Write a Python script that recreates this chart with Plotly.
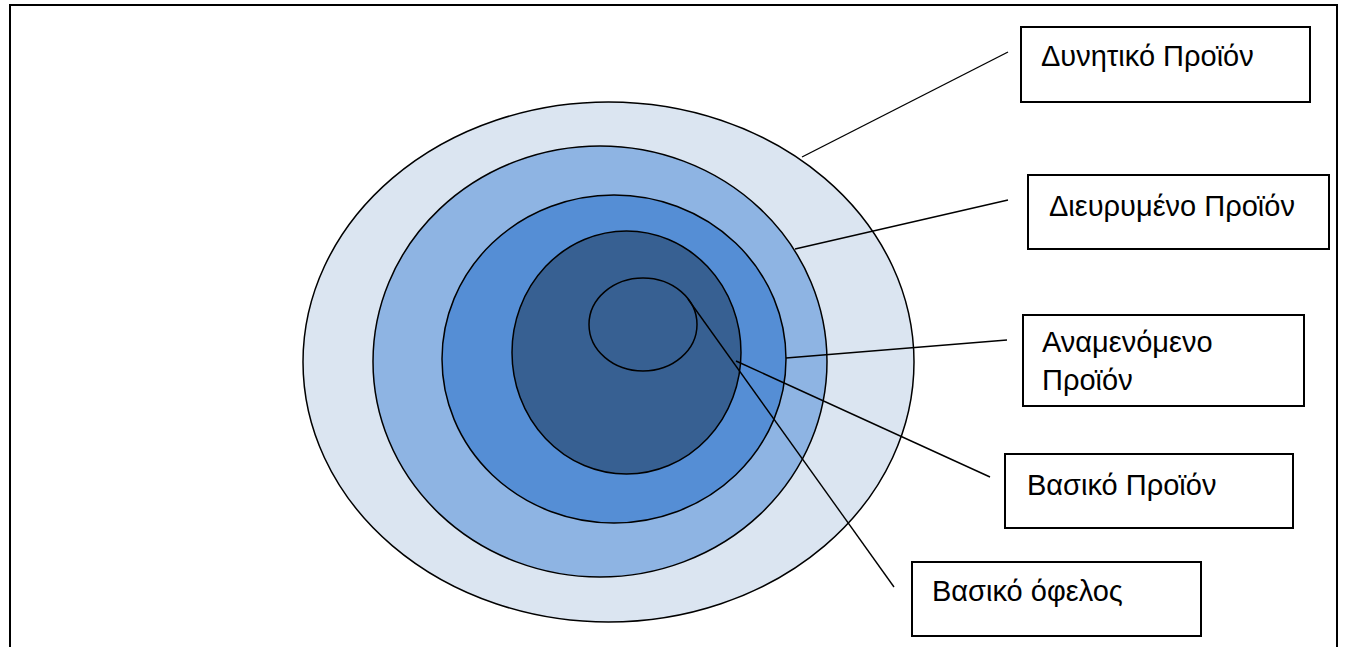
import plotly.graph_objects as go

W, H = 1346, 647

# ---- data (layers of the product, outer to inner) ----
ring_names = ["Δυνητικό Προϊόν", "Διευρυμένο Προϊόν", "Αναμενόμενο Προϊόν", "Βασικό Προϊόν", "Βασικό όφελος"]
label_texts = ["Δυνητικό Προϊόν", "Διευρυμένο Προϊόν", "Αναμενόμενο<br>Προϊόν", "Βασικό Προϊόν", "Βασικό όφελος"]

# ---- geometry (pixel space) ----
ellipses = [  # x0, x1, y0, y1
    (303, 914, 102, 622),
    (373, 827, 146, 577),
    (442, 786, 195, 523),
    (512, 741, 231, 474),
    (589, 697, 278, 371),
]
ellipse_fill = ["#DBE5F1", "#8EB4E3", "#558ED5", "#376092", "#376092"]

boxes = [  # x0, x1, y0, y1
    (1021, 1310, 27, 102),
    (1028, 1329, 175, 249),
    (1023, 1304, 315, 406),
    (1005, 1293, 454, 528),
    (912, 1201, 562, 636),
]
label_pos = [(1039, 56), (1047, 206), (1040, 361), (1025, 485), (930, 591)]

connectors = [  # from ring edge to box
    (802, 157, 1008, 52),
    (795, 249, 1008, 200),
    (786, 358, 1007, 340),
    (736, 361, 990, 477),
    (688, 299, 894, 587),
]

fig = go.Figure()
shapes = []
# outer frame (open at bottom)
shapes.append(dict(type="rect", x0=10, x1=1337, y0=5, y1=H + 20,
                   line=dict(color="#000", width=2), fillcolor="rgba(0,0,0,0)", layer="below"))
for (x0, x1, y0, y1), fc in zip(ellipses, ellipse_fill):
    shapes.append(dict(type="circle", x0=x0, x1=x1, y0=y0, y1=y1,
                       fillcolor=fc, line=dict(color="#000", width=1.5)))
for (xa, ya, xb, yb) in connectors:
    shapes.append(dict(type="line", x0=xa, y0=ya, x1=xb, y1=yb,
                       line=dict(color="#000", width=1.4)))
for (x0, x1, y0, y1) in boxes:
    shapes.append(dict(type="rect", x0=x0, x1=x1, y0=y0, y1=y1,
                       fillcolor="#FFFFFF", line=dict(color="#000", width=2)))

annotations = []
for txt, (x, y) in zip(label_texts, label_pos):
    annotations.append(dict(x=x, y=y, text=txt, showarrow=False, xanchor="left", yanchor="middle",
                            align="left", font=dict(family="Liberation Sans, Arial", size=29, color="#000")))

fig.update_layout(
    width=W, height=H, margin=dict(l=0, r=0, t=0, b=0),
    paper_bgcolor="white", plot_bgcolor="white",
    xaxis=dict(range=[0, W], visible=False, fixedrange=True),
    yaxis=dict(range=[H, 0], visible=False, fixedrange=True),
    shapes=shapes, annotations=annotations, showlegend=False,
)
fig.write_html("out.html", config={"displayModeBar": False})
